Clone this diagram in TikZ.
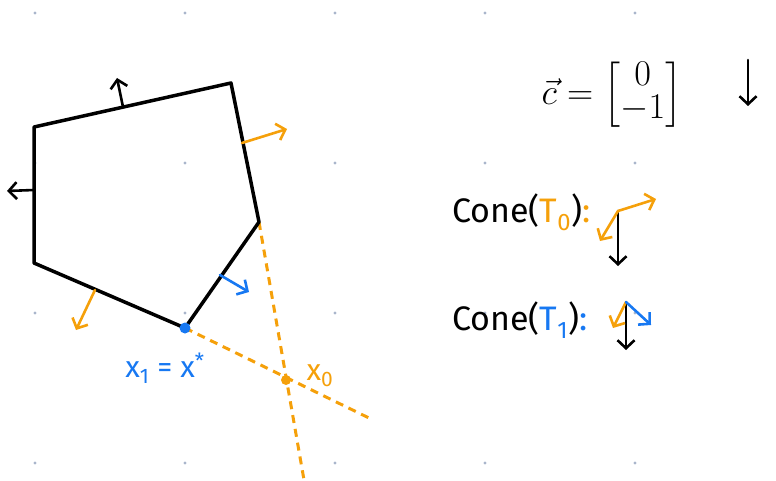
\documentclass[tikz,border=0pt]{standalone}
\usepackage{fontspec}
\setmainfont{Fira Sans}
\usepackage{amsmath}
\usepackage{graphicx}
\usetikzlibrary{arrows.meta}
\definecolor{org}{HTML}{F5A00A}
\definecolor{blu}{HTML}{1778F2}
\definecolor{gdot}{HTML}{A9B5CB}
\begin{document}
\begin{tikzpicture}[x=1pt,y=-1pt, line cap=round, line join=round,
  edge/.style={line width=3.5pt},
  vec/.style={line width=2.6pt,-{Straight Barb[length=8pt,width=17pt,line width=2.6pt]}},
  guide/.style={org, line width=3pt, dash pattern=on 8pt off 6pt, line cap=butt},
  lbl/.style={inner sep=0pt, font=\fontsize{30}{34}\selectfont}]
\useasboundingbox (0,0) rectangle (776,481);
\foreach \x in {35,185,335,485,635}
  \foreach \y in {13,163,313,463}
    \fill[gdot] (\x,\y) circle (1.7);
% vertices
\coordinate (A) at (34,127);
\coordinate (B) at (231,83);
\coordinate (C) at (259,222);
\coordinate (D) at (185,328);
\coordinate (E) at (34,263);
% guides
\coordinate (g1) at (304,480);
\coordinate (g2) at (369,418);
\coordinate (x0) at (286,380);
\draw[guide] (C) -- (g1);
\draw[guide] (D) -- (g2);
% polygon
\draw[edge] (A) -- (B) -- (C) -- (D) -- (E) -- cycle;
% normals
\coordinate (nAB) at (123,107); \coordinate (tAB) at (117,78);
\coordinate (nEA) at (34,190); \coordinate (tEA) at (7,191);
\coordinate (nBC) at (242,143); \coordinate (tBC) at (287,129);
\coordinate (nDE) at (95,290); \coordinate (tDE) at (76,330);
\coordinate (nCD) at (220,275); \coordinate (tCD) at (249,292);
\draw[vec] (nAB) -- (tAB);
\draw[vec] (nEA) -- (tEA);
\draw[vec, org] (nBC) -- (tBC);
\draw[vec, org] (nDE) -- (tDE);
\draw[vec, blu] (nCD) -- (tCD);
% points
\fill[blu] (D) circle (5.5);
\fill[org] (x0) circle (5);
\node[lbl, blu] (lx1) at (165,368) {x\textsubscript{1} = x\textsuperscript{*}};
\node[lbl, org] (lx0) at (320,376) {x\textsubscript{0}};
% c vector
\node[inner sep=0pt] (cvec) at (612,95)
  {\scalebox{2.1}{\LARGE$\vec{c} = \renewcommand{\arraystretch}{0.66}\begin{bmatrix} 0 \\ -1 \end{bmatrix}$}};
\coordinate (ca) at (748,60); \coordinate (cb) at (748,106);
\draw[vec] (ca) -- (cb);
% cones
\node[lbl, anchor=west, font=\fontsize{34}{38}\selectfont] (cone0) at (452,212)
  {Cone(\textcolor{org}{T\textsubscript{0}})\textcolor{org}{:}};
\coordinate (o0) at (618,211);
\coordinate (o0a) at (656,199);
\coordinate (o0b) at (600,241);
\coordinate (o0c) at (618,266);
\draw[vec] (o0) -- (o0c);
\draw[vec, org] (o0) -- (o0a);
\draw[vec, org] (o0) -- (o0b);
\node[lbl, anchor=west, font=\fontsize{34}{38}\selectfont] (cone1) at (452,320)
  {Cone(\textcolor{blu}{T\textsubscript{1}})\textcolor{blu}{:}};
\coordinate (o1) at (626,302);
\coordinate (o1a) at (651,325);
\coordinate (o1b) at (613,328);
\coordinate (o1c) at (626,350);
\draw[vec] (o1) -- (o1c);
\draw[vec, org] (o1) -- (o1b);
\draw[vec, blu] (o1) -- (o1a);
\end{tikzpicture}
\end{document}
